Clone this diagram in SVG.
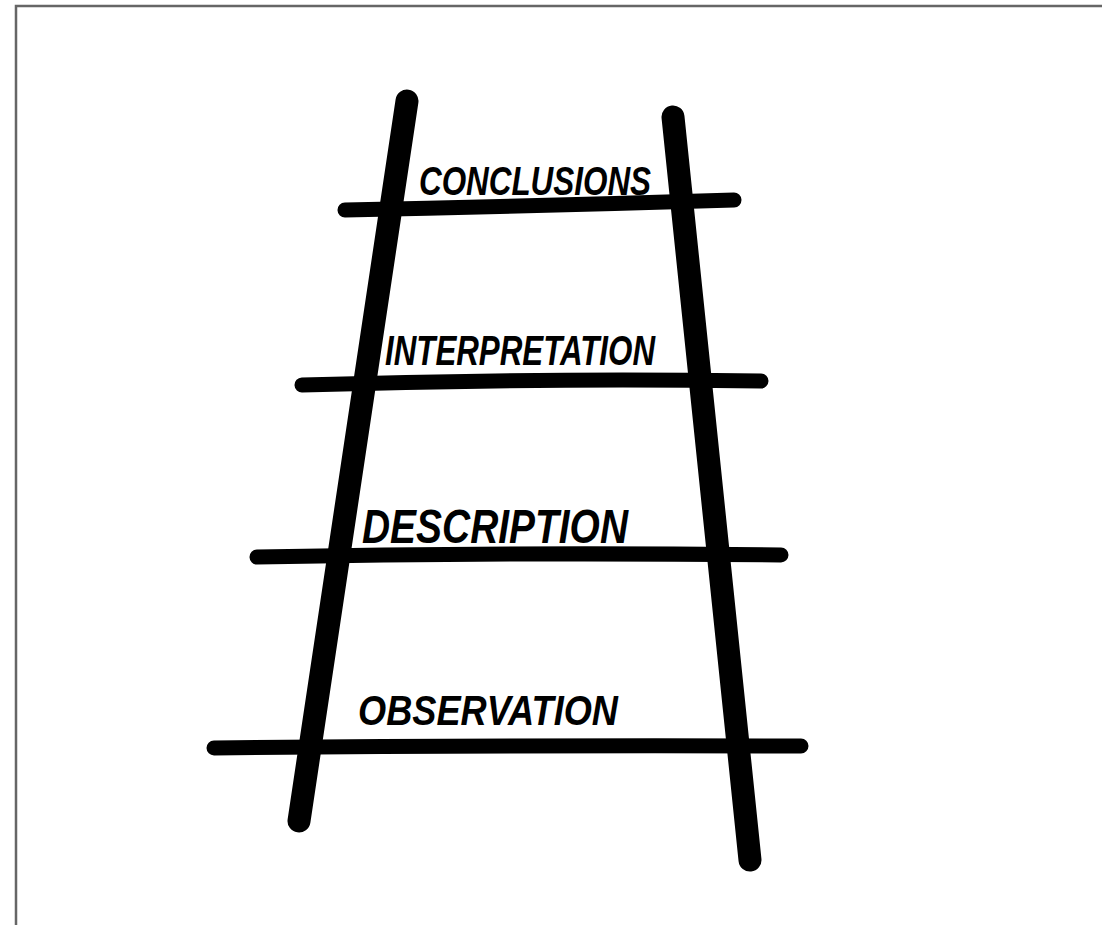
<svg xmlns="http://www.w3.org/2000/svg" width="1102" height="925" viewBox="0 0 1102 925">
  <style>
    .rail { fill: none; stroke: #000; stroke-width: 23; stroke-linecap: round; stroke-linejoin: round; }
    .rung { fill: none; stroke: #000; stroke-width: 15; stroke-linecap: round; }
    .lbl { font-family: "Liberation Sans", Arial, sans-serif; font-weight: bold; font-style: italic; fill: #000; }
    .frame { stroke: #666; stroke-width: 2.5; fill: none; }
  </style>
  <rect width="1102" height="925" fill="#fff"/>
  <!-- page frame -->
  <path class="frame" d="M16,925 V6 H1102"/>

  <g id="connectors">
    <!-- rails -->
    <path id="rail-left" class="rail" d="M407,101 Q360,420 299,821"/>
    <path id="rail-right" class="rail" d="M673,117 Q712,490 750,860"/>
  </g>

  <g id="rung-conclusions">
    <path class="rung" d="M345,210 Q540,206 734,200"/>
    <text class="lbl" x="419" y="195" font-size="40" textLength="232" lengthAdjust="spacingAndGlyphs">CONCLUSIONS</text>
  </g>
  <g id="rung-interpretation">
    <path class="rung" d="M302,385 Q530,378 761,381"/>
    <text class="lbl" x="385" y="365" font-size="42" textLength="270" lengthAdjust="spacingAndGlyphs">INTERPRETATION</text>
  </g>
  <g id="rung-description">
    <path class="rung" d="M257,557 Q520,552 781,555"/>
    <text class="lbl" x="362" y="543" font-size="48" textLength="266" lengthAdjust="spacingAndGlyphs">DESCRIPTION</text>
  </g>
  <g id="rung-observation">
    <path class="rung" d="M214,748 Q510,745 801,746"/>
    <text class="lbl" x="358" y="725" font-size="42" textLength="260" lengthAdjust="spacingAndGlyphs">OBSERVATION</text>
  </g>
</svg>
